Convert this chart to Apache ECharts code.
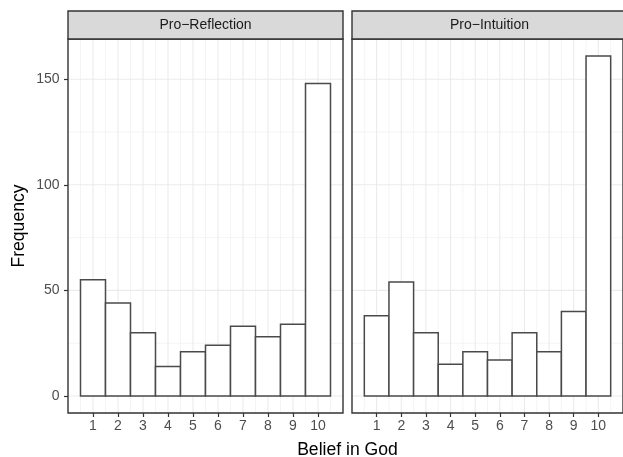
<!DOCTYPE html>
<html>
<head>
<meta charset="utf-8">
<script src="https://cdn.jsdelivr.net/npm/echarts@6/dist/echarts.min.js"></script>
<style>
html,body{margin:0;padding:0;background:#fff;}
#chart{width:623px;height:457px;}
</style>
</head>
<body>
<div id="chart"></div>
<script>
// ---- data ----
const categories = [1, 2, 3, 4, 5, 6, 7, 8, 9, 10];
const panelTitles = ['Pro\u2212Reflection', 'Pro\u2212Intuition'];
const proReflection = [55, 44, 30, 14, 21, 24, 33, 28, 34, 148];
const proIntuition = [38, 54, 30, 15, 21, 17, 30, 21, 40, 161];
const yTickValues = [0, 50, 100, 150];
const xTickValues = [1, 2, 3, 4, 5, 6, 7, 8, 9, 10];

// ---- layout ----
const FONT = "'Liberation Sans', Arial, Helvetica, sans-serif";
const panels = [
  { left: 68, width: 275 },
  { left: 352, width: 275 }
];
const TOP = 39, BOTTOM_Y = 413, STRIP_TOP = 11;

const allVals = proReflection.concat(proIntuition);
const yMaxData = Math.max.apply(null, allVals);
const yMin = -0.05 * yMaxData, yMax = yMaxData * 1.05;
const xMin = 0, xMax = 11;

const majorY = yTickValues.slice();
const minorY = [];
for (let i = 0; i < yTickValues.length - 1; i++) minorY.push((yTickValues[i] + yTickValues[i + 1]) / 2);
minorY.push(yTickValues[yTickValues.length - 1] + 25);
const majorX = xTickValues.slice();
const minorX = [];
for (let i = 0; i <= xTickValues.length; i++) minorX.push(i + 0.5);

const gridItems = [];
majorY.forEach(v => gridItems.push([v, 'y', 1.1]));
minorY.forEach(v => gridItems.push([v, 'y', 0.55]));
majorX.forEach(v => gridItems.push([v, 'x', 1.1]));
minorX.forEach(v => gridItems.push([v, 'x', 0.55]));

const chart = echarts.init(document.getElementById('chart'), null, { renderer: 'canvas' });

const grids = panels.map(p => ({
  left: p.left, top: TOP, width: p.width, height: BOTTOM_Y - TOP,
  show: true, borderColor: '#333333', borderWidth: 1.4, backgroundColor: 'transparent', z: 5
}));

const xAxes = panels.map((p, i) => ({
  type: 'value', gridIndex: i, min: xMin, max: xMax, interval: 1, position: 'bottom',
  axisLine: { show: false, onZero: false },
  splitLine: { show: false },
  axisTick: { show: true, customValues: xTickValues, length: 4, lineStyle: { color: '#333333', width: 1.2 } },
  axisLabel: { show: true, customValues: xTickValues, margin: 6, color: '#4D4D4D', fontSize: 14, fontFamily: FONT }
}));

const yAxes = panels.map((p, i) => ({
  type: 'value', gridIndex: i, min: yMin, max: yMax, position: 'left',
  axisLine: { show: false, onZero: false },
  splitLine: { show: false },
  axisTick: { show: i === 0, customValues: yTickValues, length: 4, lineStyle: { color: '#333333', width: 1.2 } },
  axisLabel: { show: i === 0, customValues: yTickValues, margin: 8.5, color: '#4D4D4D', fontSize: 14, fontFamily: FONT },
  name: i === 0 ? 'Frequency' : '',
  nameLocation: 'middle', nameGap: 40,
  nameTextStyle: { color: '#000', fontSize: 17.6, fontFamily: FONT }
}));

function gridRender(params, api) {
  const cs = params.coordSys;
  const v = api.value(0), kind = gridItems[params.dataIndex][1], w = gridItems[params.dataIndex][2];
  let shape;
  if (kind === 'y') {
    const y = api.coord([xMin, v])[1];
    shape = { x1: cs.x, y1: y, x2: cs.x + cs.width, y2: y };
  } else {
    const x = api.coord([v, yMin])[0];
    shape = { x1: x, y1: cs.y, x2: x, y2: cs.y + cs.height };
  }
  return { type: 'line', shape: shape, style: { stroke: '#EBEBEB', lineWidth: w } };
}

function barRender(params, api) {
  const x = api.value(0), y = api.value(1);
  const p0 = api.coord([x - 0.5, 0]);
  const p1 = api.coord([x + 0.5, y]);
  return {
    type: 'rect',
    shape: { x: p0[0], y: p1[1], width: p1[0] - p0[0], height: p0[1] - p1[1] },
    style: { fill: '#FFFFFF', stroke: '#4A4A4A', lineWidth: 1.5 }
  };
}

const seriesData = [proReflection, proIntuition];
const series = [];
panels.forEach((p, i) => {
  series.push({
    type: 'custom', xAxisIndex: i, yAxisIndex: i, z: 1, silent: true,
    renderItem: gridRender,
    data: gridItems.map(g => [g[0]]),
    encode: { x: 0 }
  });
  series.push({
    type: 'custom', xAxisIndex: i, yAxisIndex: i, z: 2, silent: true,
    renderItem: barRender,
    data: categories.map((c, k) => [c, seriesData[i][k]]),
    encode: { x: 0, y: 1 }
  });
});

const graphics = [];
panels.forEach((p, i) => {
  graphics.push({
    type: 'rect', z: 10,
    shape: { x: p.left, y: STRIP_TOP, width: p.width, height: TOP - STRIP_TOP },
    style: { fill: '#D9D9D9', stroke: '#333333', lineWidth: 1.4 }
  });
  graphics.push({
    type: 'text', z: 11,
    x: p.left + p.width / 2, y: (STRIP_TOP + TOP) / 2 + 0.5,
    style: { text: panelTitles[i], fill: '#1A1A1A', font: '14px ' + FONT, align: 'center', verticalAlign: 'middle' }
  });
});
graphics.push({
  type: 'text', z: 11,
  x: (panels[0].left + panels[1].left + panels[1].width) / 2, y: 450,
  style: { text: 'Belief in God', fill: '#000000', font: '17.6px ' + FONT, align: 'center', verticalAlign: 'middle' }
});

chart.setOption({
  animation: false,
  grid: grids,
  xAxis: xAxes,
  yAxis: yAxes,
  series: series,
  graphic: graphics
});
</script>
</body>
</html>
